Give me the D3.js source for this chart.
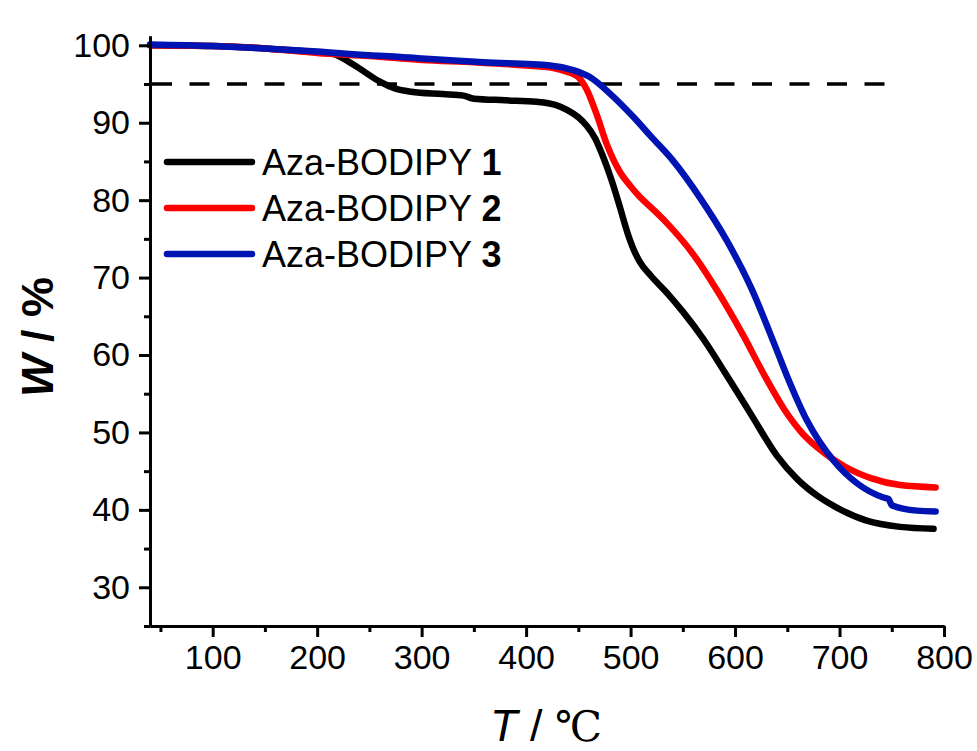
<!DOCTYPE html>
<html>
<head>
<meta charset="utf-8">
<script src="https://cdn.jsdelivr.net/npm/d3@7"></script>
<style>
    html, body { margin: 0; padding: 0; background: #fff; }
    .chart text { font-family: "Liberation Sans", Arial, sans-serif; fill: #000; }
</style>
</head>
<body>
<div class="chart"></div>
<script>
// TGA curves (T in degC, W in %)
var t1 = [40, 100, 150, 200, 215, 230, 245, 260, 275, 290, 320, 340, 350, 380, 410, 428, 440, 450, 458, 466, 474, 482, 490, 497, 503, 509, 519, 535, 550, 570, 590, 615, 640, 660, 680, 700, 726, 758, 790];
var w1 = [100, 99.9, 99.6, 99.1, 98.9, 97.9, 96.6, 95.3, 94.4, 94.0, 93.7, 93.5, 93.1, 92.9, 92.7, 92.3, 91.6, 90.7, 89.6, 88.0, 85.5, 82.5, 79.0, 75.8, 73.6, 72.0, 70.3, 68.0, 65.6, 62.0, 57.8, 52.4, 47.0, 43.9, 41.7, 40.1, 38.6, 37.8, 37.55];

var t2 = [40, 100, 150, 200, 250, 300, 350, 400, 425, 439, 450, 458, 468, 477, 490, 500, 509, 520, 535, 560, 583, 608, 628, 647, 665, 685, 705, 730, 758, 792];
var w2 = [100, 99.9, 99.6, 99.0, 98.6, 98.1, 97.8, 97.4, 97.1, 96.6, 95.9, 94.3, 90.9, 87.3, 83.6, 81.8, 80.4, 79.0, 77.0, 73.0, 68.3, 62.5, 57.4, 53.0, 49.8, 47.4, 45.6, 44.1, 43.2, 42.9];

var t3 = [40, 100, 150, 200, 250, 280, 300, 359, 423, 445, 461, 480, 503, 519, 540, 567, 592, 615, 640, 650, 669, 694, 717, 742, 747, 750, 774, 792];
var w3 = [100.1, 99.9, 99.6, 99.2, 98.7, 98.5, 98.3, 97.8, 97.4, 96.8, 95.9, 93.8, 90.7, 88.3, 85.2, 80.2, 74.8, 68.8, 60.6, 57.2, 51.5, 46.4, 43.4, 41.6, 41.4, 40.6, 39.9, 39.8];

var seriesNames = ["Aza-BODIPY ", "Aza-BODIPY ", "Aza-BODIPY "];
var seriesIds = ["1", "2", "3"];
var seriesColors = ["#000000", "#ff0000", "#0014b4"];

var xMajor = [100, 200, 300, 400, 500, 600, 700, 800];
var xMinor = [50, 150, 250, 350, 450, 550, 650, 750];
var yMajor = [30, 40, 50, 60, 70, 80, 90, 100];
var yMinor = [25, 35, 45, 55, 65, 75, 85, 95];

var threshold = 95;
var thresholdRange = [40, 757];

var width = 977, height = 751;
var plotLeft = 150, plotRight = 944, plotTop = 36, plotBottom = 626;

var svg = d3.select(".chart")
    .append("svg")
    .attr("width", width)
    .attr("height", height);

svg.append("rect").attr("width", width).attr("height", height).attr("fill", "#fff");

var x = d3.scaleLinear().domain([40, 800]).range([plotLeft, plotRight]);
var y = d3.scaleLinear().domain([25, 101.2]).range([plotBottom, plotTop]);

// dashed 95 % line
svg.append("line")
    .attr("x1", x(thresholdRange[0]) + 2)
    .attr("x2", x(thresholdRange[1]))
    .attr("y1", y(threshold))
    .attr("y2", y(threshold))
    .attr("stroke", "#000")
    .attr("stroke-width", 3.5)
    .attr("stroke-dasharray", "20,17.5");

// curves
var line = d3.line()
    .x(function(d) { return x(d[0]); })
    .y(function(d) { return y(d[1]); })
    .curve(d3.curveMonotoneX);

var all = [d3.zip(t1, w1), d3.zip(t2, w2), d3.zip(t3, w3)];
all.forEach(function(pts, i) {
    svg.append("path")
        .attr("d", line(pts))
        .attr("fill", "none")
        .attr("stroke", seriesColors[i])
        .attr("stroke-width", 6.5)
        .attr("stroke-linecap", "round")
        .attr("stroke-linejoin", "round");
});

// axes
var xAxis = d3.axisBottom(x).tickValues(xMajor).tickSize(11).tickPadding(8).tickSizeOuter(0);
var xAxisMinor = d3.axisBottom(x).tickValues(xMinor).tickSize(6).tickFormat("").tickSizeOuter(0);
var yAxis = d3.axisLeft(y).tickValues(yMajor).tickSize(11).tickPadding(9).tickSizeOuter(0);
var yAxisMinor = d3.axisLeft(y).tickValues(yMinor).tickSize(6).tickFormat("").tickSizeOuter(0);

[[xAxisMinor, true], [xAxis, true], [yAxisMinor, false], [yAxis, false]].forEach(function(a) {
    var g = svg.append("g")
        .attr("transform", a[1] ? "translate(0," + plotBottom + ")" : "translate(" + plotLeft + ",0)")
        .call(a[0]);
    g.selectAll("line").attr("stroke", "#000").attr("stroke-width", 3);
    g.select(".domain").attr("stroke", "#000").attr("stroke-width", 3);
    g.selectAll("text").style("font-size", "34px").attr("fill", "#000");
});

// axis titles
svg.append("text")
    .attr("transform", "translate(53,337)rotate(-90)")
    .attr("text-anchor", "middle")
    .style("font-size", "45px")
    .style("font-weight", "bold")
    .call(function(t) {
        t.append("tspan").style("font-style", "italic").text("W");
        t.append("tspan").text(" / %");
    });

var xt = svg.append("text")
    .attr("x", 546)
    .attr("y", 741)
    .attr("text-anchor", "middle")
    .style("font-size", "45px");
xt.append("tspan").style("font-style", "italic").text("T");
xt.append("tspan").text(" / ");
xt.append("tspan").style("font-family", "'DejaVu Serif', 'Liberation Serif', serif").style("font-size", "42px").text("\u2103");

// legend
var legend = svg.append("g");
seriesNames.forEach(function(name, i) {
    var ly = 162 + i * 46;
    legend.append("line")
        .attr("x1", 167).attr("x2", 252)
        .attr("y1", ly).attr("y2", ly)
        .attr("stroke", seriesColors[i])
        .attr("stroke-width", 6.5)
        .attr("stroke-linecap", "round");
    var lt = legend.append("text")
        .attr("x", 262)
        .attr("y", ly + 12.5)
        .style("font-size", "36px");
    lt.append("tspan").text(name);
    lt.append("tspan").style("font-weight", "bold").text(seriesIds[i]);
});
</script>
</body>
</html>
